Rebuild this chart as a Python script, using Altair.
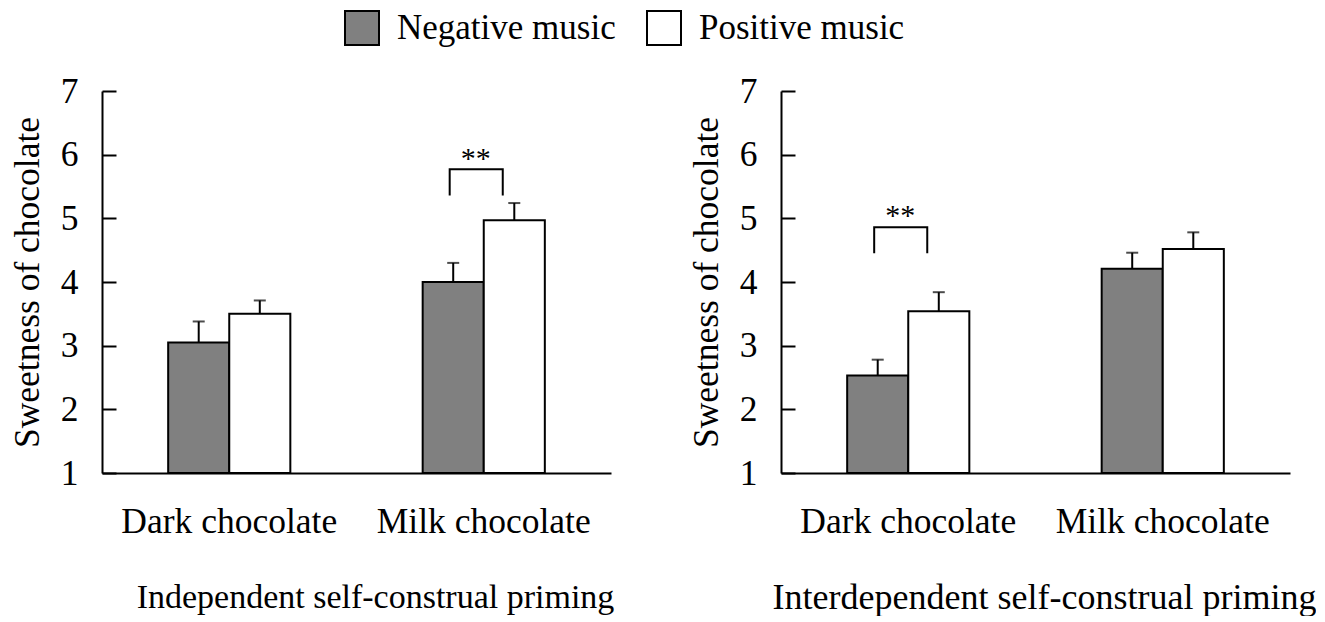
import altair as alt
import pandas as pd

# ---------------- data ----------------
categories = ["Dark chocolate", "Milk chocolate"]
groups = ["Negative music", "Positive music"]
panel_titles = ["Independent self-construal priming", "Interdependent self-construal priming"]

# order: dark-neg, dark-pos, milk-neg, milk-pos
indep_means = [3.05, 3.50, 4.00, 4.97]
indep_errors = [0.33, 0.21, 0.30, 0.27]
interdep_means = [2.53, 3.54, 4.21, 4.52]
interdep_errors = [0.25, 0.30, 0.25, 0.26]

# significance brackets: category, leg bottom, bracket top, star height
indep_bracket = ["Milk chocolate", 5.36, 5.77, 6.03]
interdep_bracket = ["Dark chocolate", 4.45, 4.86, 5.13]

y_ticks = [1, 2, 3, 4, 5, 6, 7]

# ---------------- styling ----------------
FONT = "Liberation Serif"
FS = 35.5
W, H = 509, 382

x_scale = alt.Scale(domain=categories, paddingInner=0.52, paddingOuter=0.26)
xo_scale = alt.Scale(domain=groups, paddingInner=0, paddingOuter=0)
xo_bracket_scale = alt.Scale(type="point", domain=groups, padding=0.651, align=0.391)
y_scale = alt.Scale(domain=[1, 7], zero=False, nice=False)

legend_spec = alt.Legend(
    orient="none", legendX=242, legendY=-81, direction="horizontal", title=None,
    symbolType="square", symbolSize=1156, symbolStrokeColor="black", symbolStrokeWidth=2,
    labelFont=FONT, labelFontSize=35, labelColor="black", labelOffset=17,
    columnPadding=27, padding=0, labelLimit=600,
)

y_left_axis = alt.Axis(
    orient="left", values=y_ticks, ticks=False, tickSize=0, grid=False,
    domainColor="black", domainWidth=2,
    labelFont=FONT, labelFontSize=FS, labelColor="black", labelPadding=24,
    title="Sweetness of chocolate", titleFont=FONT, titleFontSize=FS,
    titleFontWeight="normal", titleColor="black", titlePadding=15,
)
y_tick_axis = alt.Axis(
    orient="right", offset=-W, values=y_ticks, ticks=True, tickSize=14, tickWidth=2,
    tickColor="black", labels=False, domain=False, grid=False, title=None,
)


def build_df(means, errors):
    rows = []
    k = 0
    for c in categories:
        for g in groups:
            rows.append({"category": c, "group": g, "mean": means[k], "top": means[k] + errors[k]})
            k += 1
    return pd.DataFrame(rows)


def panel(means, errors, bracket, title, title_x, title_size):
    df = build_df(means, errors)
    cat, lo, hi, star = bracket
    br = pd.DataFrame({
        "category": [cat] * 4,
        "group": [groups[0], groups[0], groups[1], groups[1]],
        "value": [lo, hi, hi, lo],
        "idx": [0, 1, 2, 3],
    })
    st = pd.DataFrame({"category": [cat], "star": [star]})

    x_enc = alt.X(
        "category:N", scale=x_scale, sort=categories,
        axis=alt.Axis(
            title=title, orient="bottom", labelAngle=0, ticks=False, tickSize=0,
            domainColor="black", domainWidth=2, grid=False,
            labelFont=FONT, labelFontSize=FS, labelColor="black", labelPadding=31,
            labelLimit=600,
            titleFont=FONT, titleFontSize=title_size, titleFontWeight="normal",
            titleColor="black", titlePadding=41, titleX=title_x,
        ),
    )
    xo_enc = alt.XOffset("group:N", scale=xo_scale, sort=groups)

    bars = alt.Chart(df).mark_bar(stroke="black", strokeWidth=2).encode(
        x=x_enc, xOffset=xo_enc,
        y=alt.Y("mean:Q", scale=y_scale, axis=y_left_axis),
        y2=alt.datum(1),
        fill=alt.Fill("group:N", scale=alt.Scale(domain=groups, range=["#808080", "#ffffff"]),
                      legend=legend_spec),
    )
    err = alt.Chart(df).mark_rule(color="black", strokeWidth=2).encode(
        x=x_enc, xOffset=xo_enc,
        y=alt.Y("mean:Q", scale=y_scale, axis=y_tick_axis),
        y2="top:Q",
    )
    caps = alt.Chart(df).mark_tick(color="black", size=12, thickness=2).encode(
        x=x_enc, xOffset=xo_enc,
        y=alt.Y("top:Q", scale=y_scale, axis=None),
    )
    brk = alt.Chart(br).mark_line(color="black", strokeWidth=2).encode(
        x=x_enc,
        xOffset=alt.XOffset("group:N", scale=xo_bracket_scale, sort=groups),
        y=alt.Y("value:Q", scale=y_scale, axis=None),
        order="idx:Q",
    )
    stars = alt.Chart(st).mark_text(text="**", font=FONT, fontSize=30, baseline="middle",
                                    dy=6, dx=-8, color="black").encode(
        x=x_enc,
        y=alt.Y("star:Q", scale=y_scale, axis=None),
    )
    return (alt.layer(bars, err, caps, brk, stars)
            .resolve_axis(y="independent")
            .resolve_scale(xOffset="independent")
            .properties(width=W, height=H))


left = panel(indep_means, indep_errors, indep_bracket, panel_titles[0], 273, 34)
right = panel(interdep_means, interdep_errors, interdep_bracket, panel_titles[1], 263, 36)

chart = alt.hconcat(left, right, spacing=170, bounds="flush").properties(
    padding={"left": 2, "top": 2, "right": 0, "bottom": 0}
).configure_view(stroke=None)

chart.save("out.html", embed_options={"renderer": "svg", "actions": False})
